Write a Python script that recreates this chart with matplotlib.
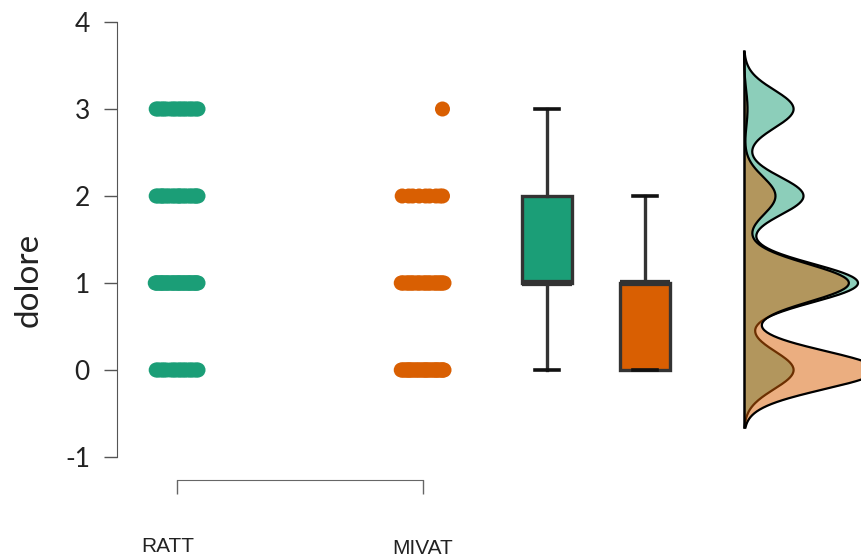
import numpy as np
import matplotlib
matplotlib.use("Agg")
import matplotlib.pyplot as plt
import matplotlib.transforms as mtransforms

plt.rcParams["axes.unicode_minus"] = False

# data: counts of each score per group
groups = ["RATT", "MIVAT"]
levels = [0, 1, 2, 3]
ratt_counts = [20, 46, 24, 20]
mivat_counts = [38, 30, 9, 1]
colors = ["#1b9e77", "#d95f02"]

ratt = np.repeat(levels, ratt_counts).astype(float)
mivat = np.repeat(levels, mivat_counts).astype(float)
samples = [ratt, mivat]

# layout in x data units
dot_pos = [1.0, 2.0]
box_pos = [2.504, 2.902]
dens_base = 3.305
bw = 0.22
jit = 0.09


def kde(values, grid, bw):
    z = (grid[:, None] - values[None, :]) / bw
    return np.exp(-0.5 * z ** 2).sum(axis=1) / (len(values) * bw * np.sqrt(2 * np.pi))


fig = plt.figure(figsize=(8.61, 5.59), dpi=100)
ax = fig.add_axes([117 / 861, 1 - 457 / 559, 744 / 861, 435 / 559])

# jittered dots (golden-ratio spread so the strip is filled evenly)
for vals, x0, c in zip(samples, dot_pos, colors):
    xs = []
    for lv in levels:
        n = int((vals == lv).sum())
        frac = (0.94 + np.arange(n) * 0.618034) % 1.0
        xs.append(x0 + jit * (2 * frac - 1))
    ax.scatter(np.concatenate(xs), vals, s=117, color=c, edgecolors="none", zorder=3)

# boxplots
bp = ax.boxplot(samples, positions=box_pos, widths=0.203, patch_artist=True,
                showfliers=False, capwidths=0.098, manage_ticks=False,
                boxprops=dict(linewidth=2.4, edgecolor="#333333"),
                whiskerprops=dict(linewidth=2.4, color="#333333"),
                capprops=dict(linewidth=2.6, color="#111111"),
                medianprops=dict(linewidth=4.5, color="#333333", solid_capstyle="butt"))
for patch, c in zip(bp["boxes"], colors):
    patch.set_facecolor(c)

# half densities
grid = np.linspace(0 - 3 * bw, 3 + 3 * bw, 400)
scale = 0.611
for vals, c in zip(samples, colors):
    d = kde(vals, grid, bw) * scale
    ax.fill_betweenx(grid, dens_base, dens_base + d, color=c, alpha=0.5, linewidth=0, zorder=2)
    ax.plot(dens_base + d, grid, color="black", lw=1.6, zorder=2)
ax.plot([dens_base, dens_base], [grid[0], grid[-1]], color="black", lw=1.8, zorder=2)

ax.set_xlim(1 - 60 / 246, 1 + 684 / 246)
ax.set_ylim(-1, 4)
ax.set_yticks([-1, 0, 1, 2, 3, 4])
ax.set_xticks(dot_pos)
ax.set_xticklabels(groups)

for side in ["top", "right"]:
    ax.spines[side].set_visible(False)
ax.spines["left"].set_color("#555555")
ax.spines["bottom"].set_color("#666666")
ax.spines["bottom"].set_position(("outward", 16.6))
ax.spines["bottom"].set_bounds(1, 2)

ax.tick_params(axis="y", length=9.5, width=1, color="#555555", pad=10,
               labelsize=19, labelcolor="#222222")
ax.tick_params(axis="x", length=10, width=1, color="#666666", pad=31,
               labelsize=15, labelcolor="#222222")
for lab in ax.get_yticklabels():
    lab.set_fontfamily("Lato")

# small per-label nudges
offs = [(-9, 0), (0, -2)]
for lab, (dx, dy) in zip(ax.get_xticklabels(), offs):
    lab.set_fontfamily("Liberation Sans")
    lab.set_transform(lab.get_transform() + mtransforms.ScaledTranslation(dx / 100, dy / 100, fig.dpi_scale_trans))

ax.set_ylabel("dolore", fontsize=24, fontfamily="Lato", color="#222222")
ax.yaxis.set_label_coords(-0.098, 0.407)

fig.savefig("out.png", dpi=100)
